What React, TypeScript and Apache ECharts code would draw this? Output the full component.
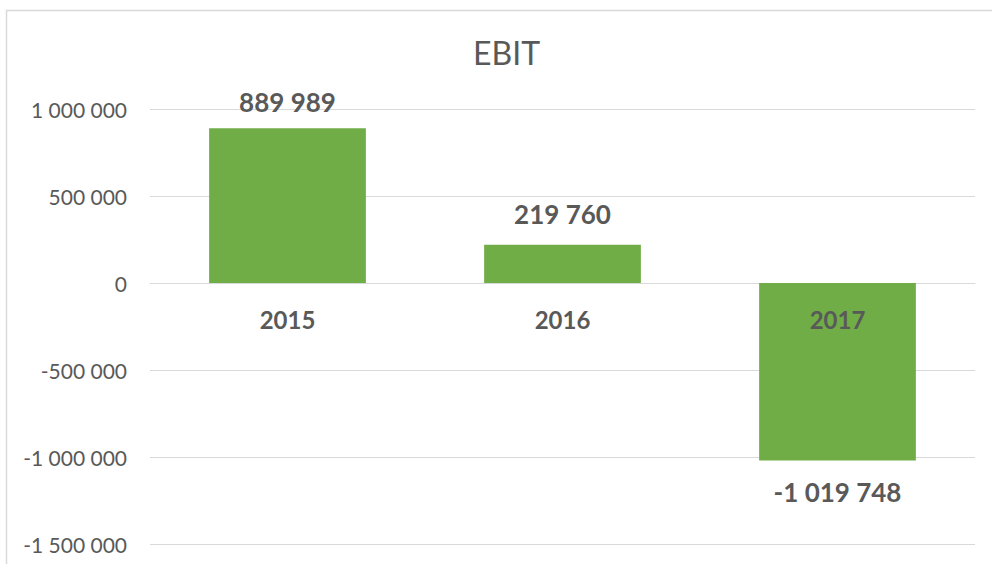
import React, { useEffect, useRef } from "react";
import * as echarts from "echarts";

const categories = ["2015", "2016", "2017"];
const ebitValues = [889989, 219760, -1019748];
const labelDistances = [13, 18, 19];
const yTicks = { min: -1500000, max: 1000000, interval: 500000 };
const chartTitle = "EBIT";

const FONT = "Lato, 'Open Sans', sans-serif";
const TEXT = "#595959";
const GRID = "#D9D9D9";

function fmt(v: number): string {
  const s = Math.abs(Math.round(v)).toString().replace(/\B(?=(\d{3})+(?!\d))/g, " ");
  return (v < 0 ? "-" : "") + s;
}

export default function App() {
  const ref = useRef<HTMLDivElement>(null);
  useEffect(() => {
    if (!ref.current) return;
    const chart = echarts.init(ref.current, null, { renderer: "svg" });
    chart.setOption({
      animation: false,
      backgroundColor: "#ffffff",
      title: {
        text: chartTitle,
        left: 473,
        top: 36,
        padding: 0,
        textStyle: { fontFamily: FONT, fontSize: 32, fontWeight: "normal", color: TEXT },
      },
      grid: {
        left: 150,
        right: 17,
        top: 109,
        bottom: 20,
        containLabel: false,
        outerBoundsMode: "none",
      },
      xAxis: {
        type: "category",
        data: categories,
        axisLine: { show: true, onZero: true, lineStyle: { color: GRID, width: 1 } },
        axisTick: { show: false },
        axisLabel: { show: false },
      },
      yAxis: {
        type: "value",
        min: yTicks.min,
        max: yTicks.max,
        interval: yTicks.interval,
        axisLine: { show: false },
        axisTick: { show: false },
        splitLine: { lineStyle: { color: GRID, width: 1 } },
        axisLabel: {
          margin: 23,
          fontFamily: FONT,
          fontSize: 21,
          color: TEXT,
          formatter: (v: number) => fmt(v),
        },
      },
      series: [
        {
          type: "bar",
          name: "EBIT",
          barWidth: "57%",
          itemStyle: { color: "#70AD47" },
          data: ebitValues.map((v, i) => ({
            value: v,
            label: {
              show: true,
              position: v >= 0 ? "top" : "bottom",
              distance: labelDistances[i],
              formatter: () => fmt(v),
              fontFamily: FONT,
              fontSize: 26,
              fontWeight: "bold",
              color: TEXT,
            },
          })),
        },
        {
          type: "bar",
          name: "category labels",
          barWidth: "57%",
          barGap: "-100%",
          z: 5,
          silent: true,
          itemStyle: { color: "transparent" },
          data: categories.map((c) => ({
            value: 0,
            label: {
              show: true,
              position: "bottom",
              distance: 24,
              formatter: () => c,
              fontFamily: FONT,
              fontSize: 24,
              fontWeight: "bold",
              color: TEXT,
            },
          })),
        },
      ],
      graphic: [
        {
          type: "rect",
          silent: true,
          shape: { x: 6.5, y: 10.5, width: 1000, height: 600 },
          style: { fill: "none", stroke: GRID, lineWidth: 1.5 },
        },
      ],
    });
    return () => chart.dispose();
  }, []);
  return (
    <div
      ref={ref}
      style={{ position: "fixed", left: 0, top: 0, width: 992, height: 564 }}
    />
  );
}
